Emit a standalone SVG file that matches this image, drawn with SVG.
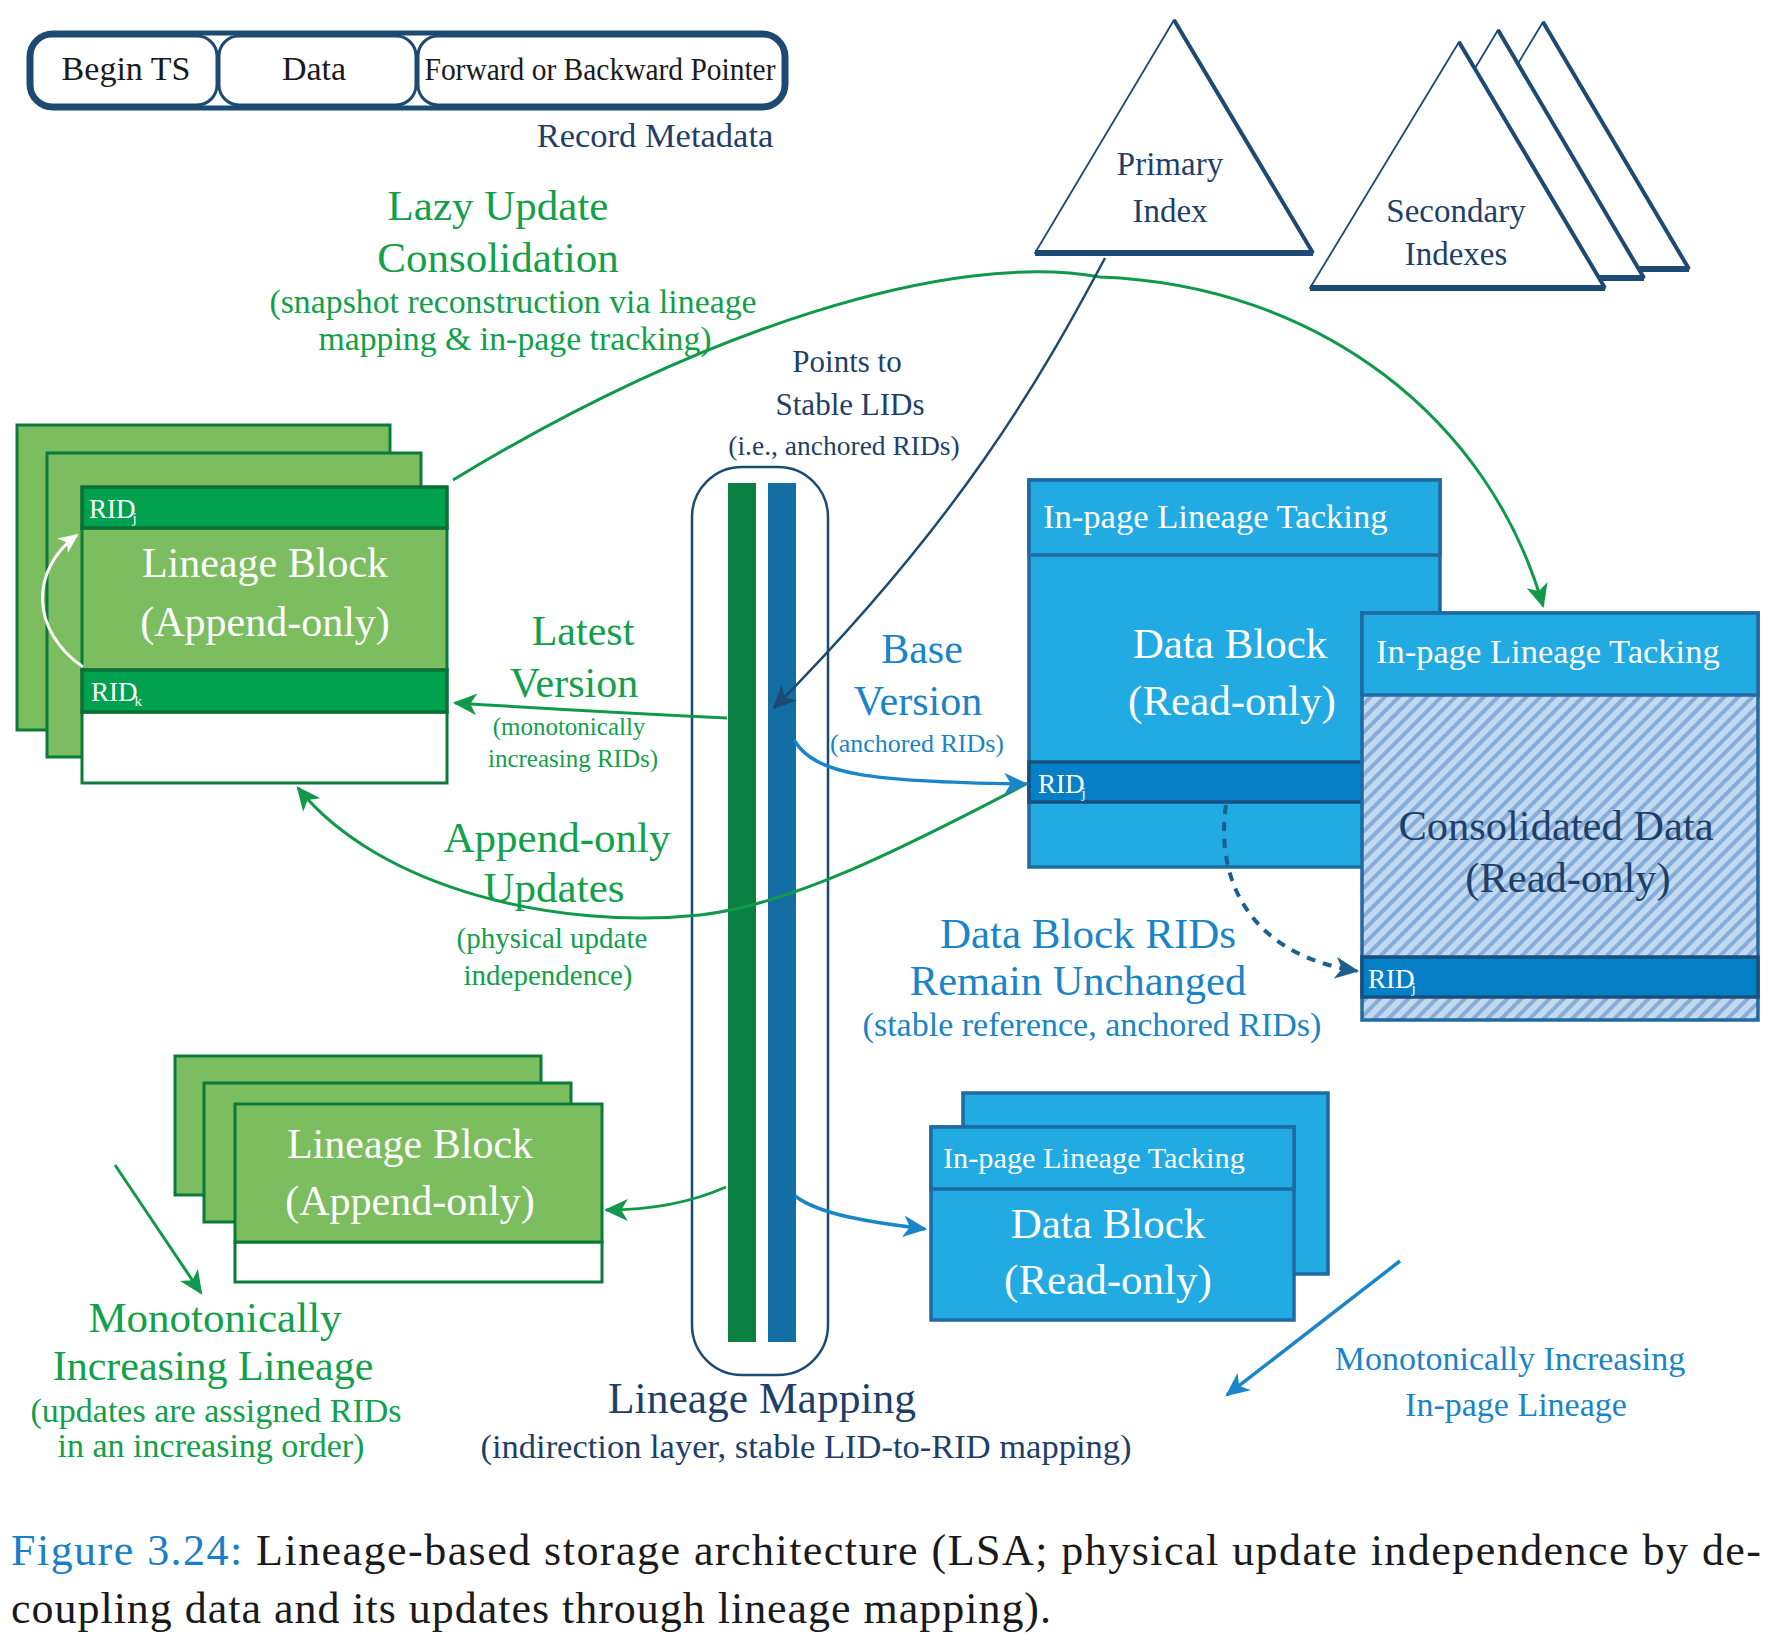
<svg xmlns="http://www.w3.org/2000/svg" width="1781" height="1647" viewBox="0 0 1781 1647">
<style>
.t{font-family:"Liberation Serif","Times New Roman",serif}
.m{text-anchor:middle}
.g{fill:#12a04b}
.n{fill:#1e3f68}
.b{fill:#1a84c8}
.w{fill:#ffffff}
.k{fill:#1a1a1a}
.lg{fill:#7bbd5f;stroke:#0b7a3b;stroke-width:3}
.hg{fill:#00a14e;stroke:#0b6f37;stroke-width:3.5}
.wb{fill:#ffffff;stroke:#0b7a3b;stroke-width:3}
.bl{fill:#22aae2;stroke:#1f6aa0;stroke-width:3.5}
.rid{fill:#0580c6;stroke:#17507e;stroke-width:3.5}
.seg{fill:none;stroke:#1c4a73;stroke-width:3}
.tri{fill:#ffffff;stroke:#1c4a73;stroke-width:1.8;stroke-linejoin:round}
.edge{stroke:#1c4a73;stroke-width:4;fill:none}
.base{stroke:#1c4a73;stroke-width:6;fill:none}
.cg{fill:none;stroke:#10994a;stroke-width:3}
.cn{fill:none;stroke:#1b4a73;stroke-width:2.5}
.cb{fill:none;stroke:#1a86c9;stroke-width:3.5}
</style>
<defs>
<marker id="ag" viewBox="0 0 22 20" refX="20" refY="10" markerWidth="24" markerHeight="22" markerUnits="userSpaceOnUse" orient="auto"><path d="M0,0 L22,10 L0,20 L6,10 Z" fill="#10994a"/></marker>
<marker id="an" viewBox="0 0 22 20" refX="20" refY="10" markerWidth="24" markerHeight="22" markerUnits="userSpaceOnUse" orient="auto"><path d="M0,0 L22,10 L0,20 L6,10 Z" fill="#1b4a73"/></marker>
<marker id="ab" viewBox="0 0 22 20" refX="20" refY="10" markerWidth="24" markerHeight="22" markerUnits="userSpaceOnUse" orient="auto"><path d="M0,0 L22,10 L0,20 L6,10 Z" fill="#1a86c9"/></marker>
<marker id="ad" viewBox="0 0 22 20" refX="20" refY="10" markerWidth="24" markerHeight="22" markerUnits="userSpaceOnUse" orient="auto"><path d="M0,0 L22,10 L0,20 L6,10 Z" fill="#1b5f8f"/></marker>
<marker id="aw" viewBox="0 0 22 20" refX="20" refY="10" markerWidth="20" markerHeight="18" markerUnits="userSpaceOnUse" orient="auto"><path d="M0,0 L22,10 L0,20 L6,10 Z" fill="#ffffff"/></marker>
<pattern id="hatch" width="10" height="10" patternUnits="userSpaceOnUse" patternTransform="rotate(45)">
<rect width="10" height="10" fill="#c2d9ef"/>
<line x1="2" y1="0" x2="2" y2="10" stroke="#86acd8" stroke-width="4"/>
</pattern>
</defs>
<rect width="1781" height="1647" fill="#ffffff"/>

<g id="record-metadata">
<rect x="29" y="33" width="757" height="75" rx="24" fill="none" stroke="#1c4a73" stroke-width="5"/>
<rect x="32" y="36" width="185" height="69" rx="20" class="seg"/>
<rect x="219" y="36" width="197" height="69" rx="20" class="seg"/>
<rect x="418" y="36" width="365" height="69" rx="20" class="seg"/>
<text x="126" y="80" font-size="34" class="t k m">Begin TS</text>
<text x="314" y="80" font-size="34" class="t k m">Data</text>
<text x="600" y="80" font-size="32" class="t k m" textLength="351" lengthAdjust="spacingAndGlyphs">Forward or Backward Pointer</text>
<text x="655" y="147" font-size="34.5" class="t n m">Record Metadata</text>
</g>

<g id="primary-index">
<polygon points="1174,20 1313,253 1035,253" class="tri"/>
<line x1="1174" y1="20" x2="1313" y2="253" class="edge"/>
<line x1="1035" y1="253" x2="1313" y2="253" class="base"/>
<text x="1170" y="175" font-size="33" class="t n m">Primary</text>
<text x="1170" y="222" font-size="33" class="t n m">Index</text>
</g>

<g id="secondary-indexes">
<polygon points="1543,22 1689,269 1394,269" class="tri"/>
<line x1="1543" y1="22" x2="1689" y2="269" class="edge"/>
<line x1="1394" y1="269" x2="1689" y2="269" class="base"/>
<polygon points="1498,30 1644,278 1349,278" class="tri"/>
<line x1="1498" y1="30" x2="1644" y2="278" class="edge"/>
<line x1="1349" y1="278" x2="1644" y2="278" class="base"/>
<polygon points="1459,42 1605,288 1310,288" class="tri"/>
<line x1="1459" y1="42" x2="1605" y2="288" class="edge"/>
<line x1="1310" y1="288" x2="1605" y2="288" class="base"/>
<text x="1456" y="222" font-size="33" class="t n m">Secondary</text>
<text x="1456" y="265" font-size="33" class="t n m">Indexes</text>
</g>

<g id="lazy-update-label">
<text x="498" y="220" font-size="43" class="t g m">Lazy Update</text>
<text x="498" y="272" font-size="43" class="t g m">Consolidation</text>
<text x="513" y="313" font-size="33.8" class="t g m">(snapshot reconstruction via lineage</text>
<text x="515" y="350" font-size="33.8" class="t g m">mapping &amp; in-page tracking)</text>
</g>

<g id="points-to-label">
<text x="847" y="372" font-size="31" class="t n m">Points to</text>
<text x="850" y="415" font-size="31" class="t n m">Stable LIDs</text>
<text x="844" y="455" font-size="27.5" class="t n m">(i.e., anchored RIDs)</text>
</g>

<g id="lineage-block-top">
<rect x="17" y="425" width="373" height="305" class="lg"/>
<rect x="47" y="453" width="374" height="304" class="lg"/>
<rect x="82" y="712" width="365" height="71" class="wb"/>
<rect x="82" y="528" width="365" height="142" class="lg"/>
<rect x="82" y="487" width="365" height="41" class="hg"/>
<rect x="82" y="670" width="365" height="42" class="hg"/>
<text x="89" y="518" font-size="27" class="t w">RID<tspan font-size="15" dy="5" dx="-3">j</tspan></text>
<text x="91" y="701" font-size="27" class="t w">RID<tspan font-size="15" dy="5" dx="-3">k</tspan></text>
<text x="265" y="577" font-size="42" class="t w m">Lineage Block</text>
<text x="265" y="636" font-size="42" class="t w m">(Append-only)</text>
</g>

<g id="lineage-block-bottom">
<rect x="175" y="1056" width="366" height="139" class="lg"/>
<rect x="204" y="1083" width="367" height="139" class="lg"/>
<rect x="235" y="1242" width="367" height="40" class="wb"/>
<rect x="235" y="1104" width="367" height="138" class="lg"/>
<text x="410" y="1158" font-size="42" class="t w m">Lineage Block</text>
<text x="410" y="1215" font-size="42" class="t w m">(Append-only)</text>
</g>

<g id="lineage-mapping">
<rect x="692" y="467" width="136" height="908" rx="50" fill="none" stroke="#1b4a73" stroke-width="2.5"/>
<rect x="728" y="483" width="28" height="859" fill="#0a8042"/>
<rect x="768" y="483" width="28" height="859" fill="#136fa3"/>
<text x="762" y="1413" font-size="43.5" class="t n m">Lineage Mapping</text>
<text x="806" y="1458" font-size="34.5" class="t n m">(indirection layer, stable LID-to-RID mapping)</text>
</g>

<g id="data-block-top">
<rect x="1029" y="480" width="411" height="387" class="bl"/>
<rect x="1029" y="480" width="411" height="75" class="bl"/>
<rect x="1029" y="762" width="411" height="40" class="rid"/>
<text x="1043" y="528" font-size="34.6" class="t w">In-page Lineage Tacking</text>
<text x="1230" y="658" font-size="43" class="t w m">Data Block</text>
<text x="1232" y="715" font-size="43" class="t w m">(Read-only)</text>
<text x="1038" y="793" font-size="27" class="t w">RID<tspan font-size="15" dy="5" dx="-3">j</tspan></text>
</g>

<g id="consolidated-data">
<rect x="1362" y="613" width="396" height="407" fill="url(#hatch)" stroke="#1f6aa0" stroke-width="3.5"/>
<rect x="1362" y="613" width="396" height="82" class="bl"/>
<rect x="1362" y="957" width="396" height="40" class="rid"/>
<text x="1376" y="663" font-size="34.5" class="t w">In-page Lineage Tacking</text>
<text x="1556" y="840" font-size="42.5" class="t n m">Consolidated Data</text>
<text x="1568" y="892" font-size="42.5" class="t n m">(Read-only)</text>
<text x="1368" y="988" font-size="27" class="t w">RID<tspan font-size="15" dy="5" dx="-3">j</tspan></text>
</g>

<g id="data-block-bottom">
<rect x="963" y="1093" width="365" height="181" class="bl"/>
<rect x="931" y="1127" width="363" height="193" class="bl"/>
<rect x="931" y="1127" width="363" height="62" class="bl"/>
<text x="943" y="1168" font-size="30.3" class="t w">In-page Lineage Tacking</text>
<text x="1108" y="1238" font-size="43" class="t w m">Data Block</text>
<text x="1108" y="1294" font-size="43" class="t w m">(Read-only)</text>
</g>

<g id="latest-version-label">
<text x="583" y="645" font-size="42" class="t g m">Latest</text>
<text x="574" y="697" font-size="42" class="t g m">Version</text>
<text x="569" y="735" font-size="25" class="t g m">(monotonically</text>
<text x="573" y="767" font-size="25" class="t g m">increasing RIDs)</text>
</g>

<g id="base-version-label">
<text x="922" y="663" font-size="42" class="t b m">Base</text>
<text x="918" y="715" font-size="42" class="t b m">Version</text>
<text x="917" y="752" font-size="26" class="t b m">(anchored RIDs)</text>
</g>

<g id="append-only-label">
<text x="557" y="852" font-size="43" class="t g m">Append-only</text>
<text x="554" y="902" font-size="43" class="t g m">Updates</text>
<text x="552" y="948" font-size="29" class="t g m">(physical update</text>
<text x="548" y="985" font-size="29" class="t g m">independence)</text>
</g>

<g id="rids-unchanged-label">
<text x="1088" y="948" font-size="43" class="t b m">Data Block RIDs</text>
<text x="1078" y="995" font-size="42.5" class="t b m">Remain Unchanged</text>
<text x="1092" y="1036" font-size="34" class="t b m">(stable reference, anchored RIDs)</text>
</g>

<g id="monotonic-lineage-label">
<text x="215" y="1332" font-size="43" class="t g m">Monotonically</text>
<text x="213" y="1380" font-size="42" class="t g m">Increasing Lineage</text>
<text x="216" y="1422" font-size="34" class="t g m">(updates are assigned RIDs</text>
<text x="211" y="1457" font-size="34" class="t g m">in an increasing order)</text>
</g>

<g id="inpage-lineage-label">
<text x="1510" y="1370" font-size="34" class="t b m">Monotonically Increasing</text>
<text x="1516" y="1416" font-size="34" class="t b m">In-page Lineage</text>
</g>

<g id="connectors">
<path d="M453,480 C700,330 950,250 1100,277 C1320,285 1490,420 1543,606" class="cg" marker-end="url(#ag)"/>
<path d="M727,718 Q600,712 455,703" class="cg" marker-end="url(#ag)"/>
<path d="M1028,783 C900,850 790,905 700,915 C560,930 380,890 298,788" class="cg" marker-end="url(#ag)"/>
<path d="M726,1187 C690,1203 650,1210 606,1210" class="cg" marker-end="url(#ag)"/>
<path d="M115,1165 L201,1293" class="cg" stroke-width="2.5" marker-end="url(#ag)"/>
<path d="M1105,258 C1040,380 960,520 774,708" class="cn" marker-end="url(#an)"/>
<path d="M794,740 C815,775 870,782 1026,784" class="cb" marker-end="url(#ab)"/>
<path d="M795,1196 C820,1215 870,1222 925,1229" class="cb" marker-end="url(#ab)"/>
<path d="M1400,1261 L1227,1395" class="cb" stroke-width="2.5" marker-end="url(#ab)"/>
<path d="M1226,805 C1215,880 1250,955 1357,971" fill="none" stroke="#1b5f8f" stroke-width="4" stroke-dasharray="9 8" marker-end="url(#ad)"/>
<path d="M83,667 C30,630 30,570 77,535" fill="none" stroke="#ffffff" stroke-width="3" marker-end="url(#aw)"/>
</g>

<g id="caption">
<text x="11" y="1565" font-size="44" class="t k" textLength="1750" lengthAdjust="spacing"><tspan fill="#1a7fc6">Figure 3.24:</tspan> Lineage-based storage architecture (LSA; physical update independence by de-</text>
<text x="11" y="1623" font-size="44" class="t k" textLength="1040" lengthAdjust="spacing">coupling data and its updates through lineage mapping).</text>
</g>
</svg>
